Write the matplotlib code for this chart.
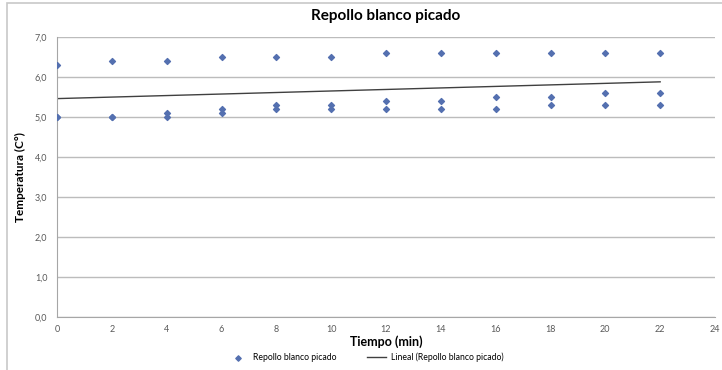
import numpy as np
import matplotlib
matplotlib.use('Agg')
import matplotlib.pyplot as plt
from matplotlib.patches import Rectangle

# Tiempo (min) and temperatures (three readings per time)
tiempo = [0, 2, 4, 6, 8, 10, 12, 14, 16, 18, 20, 22]
temp_alta = [6.3, 6.4, 6.4, 6.5, 6.5, 6.5, 6.6, 6.6, 6.6, 6.6, 6.6, 6.6]
temp_media = [5.0, 5.0, 5.1, 5.2, 5.3, 5.3, 5.4, 5.4, 5.5, 5.5, 5.6, 5.6]
temp_baja = [5.0, 5.0, 5.0, 5.1, 5.2, 5.2, 5.2, 5.2, 5.2, 5.3, 5.3, 5.3]

y_ticks = [0, 1, 2, 3, 4, 5, 6, 7]
x_ticks = list(range(0, 25, 2))

plt.rcParams['font.family'] = ['Lato', 'DejaVu Sans']

x_all = np.array(tiempo * 3)
y_all = np.array(temp_alta + temp_media + temp_baja)
slope, intercept = np.polyfit(x_all, y_all, 1)

fig = plt.figure(figsize=(7.22, 3.70), dpi=100)
ax = fig.add_axes([57 / 722, 1 - 317 / 370, 658 / 722, 280 / 370])

# outer chart border
fig.patches.append(Rectangle((7 / 722, -0.02), 1.2, 1 - 3 / 370 + 0.02, transform=fig.transFigure,
                             fill=False, edgecolor='#c8c8c8', linewidth=1.2))

blue = '#5470b0'
ax.scatter(x_all, y_all, marker='D', s=9, color=blue, zorder=3,
           label='Repollo blanco picado')
xl = np.array([min(tiempo), max(tiempo)])
ax.plot(xl, intercept + slope * xl, color='#404040', linewidth=1.0, zorder=2,
        label='Lineal (Repollo blanco picado)')

ax.set_xlim(0, 24)
ax.set_ylim(0, 7)
ax.set_yticks(y_ticks)
ax.set_yticklabels([f'{v:.1f}'.replace('.', ',') for v in y_ticks])
ax.set_xticks(x_ticks)
ax.grid(axis='y', color='#bcbcbc', linewidth=1.0)
ax.set_axisbelow(True)
for s in ['top', 'right']:
    ax.spines[s].set_visible(False)
for s in ['left', 'bottom']:
    ax.spines[s].set_color('#a6a6a6')
ax.tick_params(axis='both', labelsize=6.5, colors='#a6a6a6', labelcolor='#595959', length=0)
ax.tick_params(axis='x', pad=6)
ax.tick_params(axis='y', pad=7)

ax.set_title('Repollo blanco picado', fontsize=11, fontweight='bold', pad=12)
ax.set_xlabel('Tiempo (min)', fontsize=9, fontweight='bold', labelpad=1)
ax.set_ylabel('Temperatura (C°)', fontsize=8.5, fontweight='bold', labelpad=6)

ax.legend(loc='center', bbox_to_anchor=(0.47, -40 / 280), ncol=2, frameon=False,
          fontsize=6.2, handlelength=2.2, columnspacing=3.5, markerscale=0.9,
          borderpad=0, handletextpad=0.6)

fig.savefig('out.png', dpi=100)
